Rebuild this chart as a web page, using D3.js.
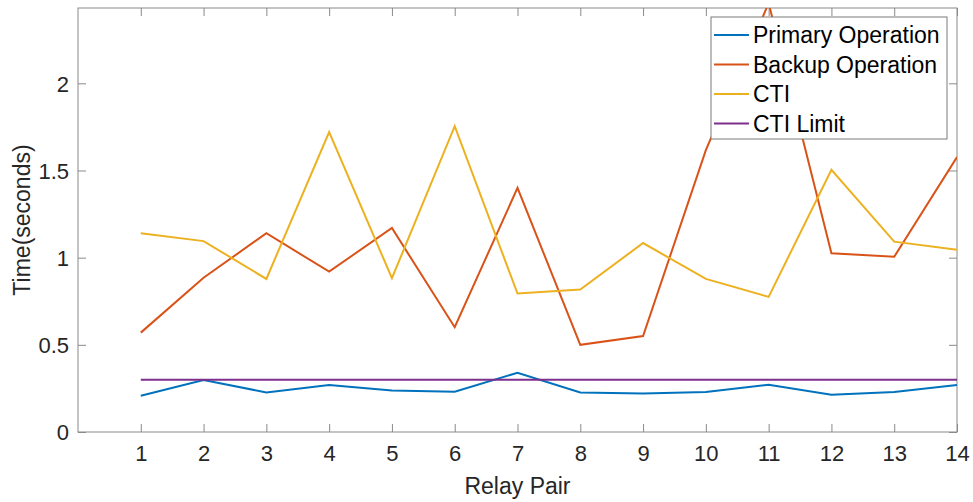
<!DOCTYPE html>
<html>
<head>
<meta charset="utf-8">
<script src="https://cdn.jsdelivr.net/npm/d3@7"></script>
<style>
  body { margin: 0; background: #fff; }
  svg { display: block; font-family: "Liberation Sans", Arial, sans-serif; }
</style>
</head>
<body>
<svg id="chart" width="973" height="502"></svg>
<script>
// relay pairs on the x axis
var relayPairs = [1, 2, 3, 4, 5, 6, 7, 8, 9, 10, 11, 12, 13, 14];
var primaryOp = [0.208, 0.298, 0.227, 0.269, 0.238, 0.231, 0.34, 0.227, 0.221, 0.229, 0.271, 0.214, 0.229, 0.269];
var backupOp  = [0.57, 0.885, 1.14, 0.92, 1.17, 0.601, 1.40, 0.50, 0.55, 1.617, 2.46, 1.025, 1.005, 1.577];
var cti       = [1.14, 1.095, 0.878, 1.72, 0.882, 1.754, 0.794, 0.817, 1.084, 0.878, 0.775, 1.504, 1.092, 1.045];
var ctiLimit  = [0.3, 0.3, 0.3, 0.3, 0.3, 0.3, 0.3, 0.3, 0.3, 0.3, 0.3, 0.3, 0.3, 0.3];
var yTicks = [0, 0.5, 1, 1.5, 2];
var seriesNames = ['Primary Operation', 'Backup Operation', 'CTI', 'CTI Limit'];
var seriesColors = ['#0072BD', '#D95319', '#EDB120', '#7E2F8E'];

DrawChart();

function DrawChart() {
  var svg = d3.select('#chart');
  var pLeft = 78, pRight = 957, pTop = 8, pBottom = 432;

  var x = d3.scaleLinear().domain([0, 14]).range([pLeft, pRight]);
  var y = d3.scaleLinear().domain([0, 2.432]).range([pBottom, pTop]);

  svg.append('clipPath').attr('id', 'clip')
    .append('rect')
    .attr('x', pLeft).attr('y', pTop)
    .attr('width', pRight - pLeft).attr('height', pBottom - pTop);

  var axisColor = '#8a8a8a';

  // box
  svg.append('rect')
    .attr('x', pLeft).attr('y', pTop)
    .attr('width', pRight - pLeft).attr('height', pBottom - pTop)
    .style('fill', 'none')
    .attr('stroke', axisColor)
    .attr('stroke-width', 1);

  // axes with inward ticks (bottom + left), mirrored on top + right
  var xAxis = svg.append('g')
    .attr('transform', 'translate(0,' + pBottom + ')')
    .call(d3.axisBottom(x).tickValues(relayPairs).tickSizeInner(-8).tickSizeOuter(0).tickPadding(17));
  var yAxis = svg.append('g')
    .attr('transform', 'translate(' + pLeft + ',0)')
    .call(d3.axisLeft(y).tickValues(yTicks).tickFormat(d3.format('')).tickSizeInner(-8).tickSizeOuter(0).tickPadding(9));
  svg.append('g')
    .attr('transform', 'translate(0,' + pTop + ')')
    .call(d3.axisTop(x).tickValues(relayPairs).tickSize(-8).tickFormat(''));
  svg.append('g')
    .attr('transform', 'translate(' + pRight + ',0)')
    .call(d3.axisRight(y).tickValues(yTicks).tickSize(-8).tickFormat(''));

  svg.selectAll('.domain').remove();
  svg.selectAll('.tick line').attr('stroke', axisColor);
  xAxis.selectAll('text').style('font-size', '22px').attr('fill', '#262626').attr('dy', '0.55em');
  yAxis.selectAll('text').style('font-size', '22px').attr('fill', '#262626').attr('dy', '0.36em');

  // axis labels
  svg.append('text')
    .attr('x', (pLeft + pRight) / 2)
    .attr('y', 494)
    .style('text-anchor', 'middle')
    .style('font-size', '23px')
    .style('fill', '#262626')
    .text('Relay Pair');
  svg.append('text')
    .attr('transform', 'translate(30,' + (pTop + pBottom) / 2 + ') rotate(-90)')
    .style('text-anchor', 'middle')
    .style('font-size', '23px')
    .style('fill', '#262626')
    .text('Time(seconds)');

  // lines
  var allSeries = [primaryOp, backupOp, cti, ctiLimit];
  var line = d3.line()
    .x(function(d, i) { return x(relayPairs[i]); })
    .y(function(d) { return y(d); });

  svg.append('g').attr('clip-path', 'url(#clip)')
    .selectAll('path')
    .data(allSeries)
    .enter()
    .append('path')
    .attr('d', line)
    .style('fill', 'none')
    .attr('stroke', function(d, i) { return seriesColors[i]; })
    .attr('stroke-width', 2);

  // legend
  var lg = svg.append('g').attr('transform', 'translate(711,17)');
  lg.append('rect')
    .attr('width', 236).attr('height', 122)
    .style('fill', '#fff')
    .attr('stroke', '#7a7a7a')
    .attr('stroke-width', 1);
  seriesNames.forEach(function(name, i) {
    var cy = 18 + i * 29.5;
    lg.append('line')
      .attr('x1', 3).attr('x2', 38)
      .attr('y1', cy).attr('y2', cy)
      .attr('stroke', seriesColors[i])
      .attr('stroke-width', 2);
    lg.append('text')
      .attr('x', 42).attr('y', cy)
      .attr('dy', '0.36em')
      .style('font-size', '23px')
      .style('fill', '#000')
      .text(name);
  });
}
</script>
</body>
</html>
